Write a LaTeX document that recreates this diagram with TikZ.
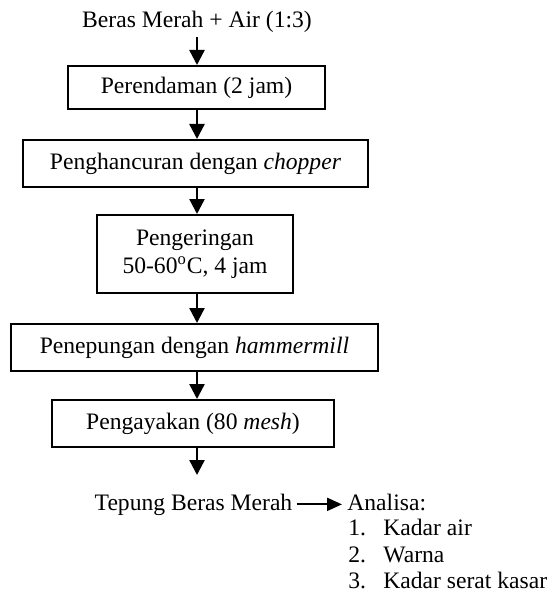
\documentclass[tikz,border=0pt]{standalone}
\usepackage{fontspec}
\setmainfont{Liberation Serif}
\usetikzlibrary{arrows.meta}
\begin{document}
\begin{tikzpicture}[x=0.5pt,y=-0.5pt,
  every node/.style={font=\fontsize{11.8}{14}\selectfont},
  proc/.style={draw, line width=1pt, align=center, inner sep=0pt},
  lbl/.style={inner sep=0pt},
  flow/.style={line width=1.2pt, -{Triangle[width=7.5pt,length=7.5pt]}},
  side/.style={line width=1.1pt, -{Triangle[width=6.5pt,length=7.5pt]}},
]
\useasboundingbox (0,0) rectangle (554,593);
\coordinate (ax) at (197,0);
\node[lbl, anchor=base] (top) at (197,28) {Beras Merah + Air (1:3)};
\node[proc, minimum width=128.5pt, minimum height=21.5pt] (b1) at (196.5,87.5) {Perendaman (2 jam)};
\node[proc, minimum width=172.5pt, minimum height=23.5pt] (b2) at (195.5,163.5) {Penghancuran dengan \textit{chopper}};
\node[proc, minimum width=98pt, minimum height=39pt] (b3) at (195,254) {Pengeringan\\50-60\textsuperscript{o}C, 4 jam};
\node[proc, minimum width=183.5pt, minimum height=23.5pt] (b4) at (194.5,347.5) {Penepungan dengan \textit{hammermill}};
\node[proc, minimum width=141pt, minimum height=23.5pt] (b5) at (193,423.5) {Pengayakan (80 \textit{mesh})};
\coordinate (tend) at (197,475);
\node[lbl, anchor=base] (tep) at (193.5,510) {Tepung Beras Merah};
\node[lbl, anchor=base west] (ana) at (347,510) {Analisa:};
\node[lbl, anchor=base west] (n1) at (348,535) {1.};
\node[lbl, anchor=base west] (i1) at (383,535) {Kadar air};
\node[lbl, anchor=base west] (n2) at (348,562) {2.};
\node[lbl, anchor=base west] (i2) at (383,562) {Warna};
\node[lbl, anchor=base west] (n3) at (348,588) {3.};
\node[lbl, anchor=base west] (i3) at (383,588) {Kadar serat kasar};

\draw[flow, shorten <=2pt] (top.south) -- (b1.north -| ax);
\draw[flow] (b1.south -| ax) -- (b2.north -| ax);
\draw[flow] (b2.south -| ax) -- (b3.north -| ax);
\draw[flow] (b3.south -| ax) -- (b4.north -| ax);
\draw[flow] (b4.south -| ax) -- (b5.north -| ax);
\draw[flow] (b5.south -| ax) -- (tend);
\draw[side] ([xshift=2pt]tep.east) -- ([xshift=-2.5pt]tep.east -| ana.west);
\end{tikzpicture}
\end{document}
